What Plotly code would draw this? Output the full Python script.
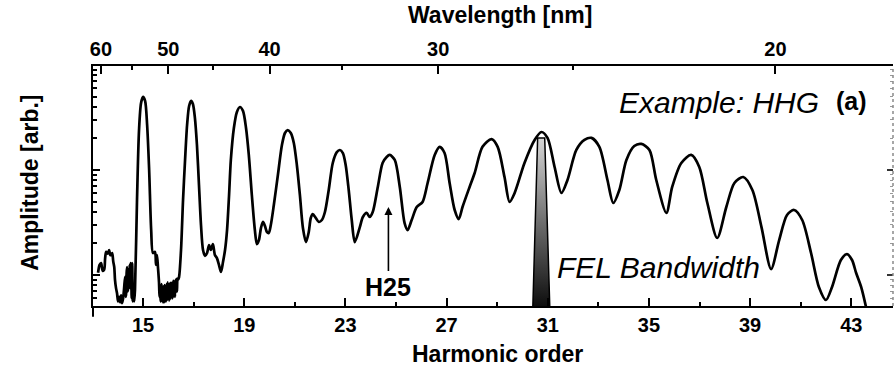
import math
import plotly.graph_objects as go

# Measured HHG spectrum: harmonic order vs. amplitude (arb. units, log scale)
harmonic_order = [
    13.22, 13.28, 13.34, 13.40, 13.46, 13.50, 13.54, 13.60, 13.66, 13.70,
    13.74, 13.78, 13.82, 13.86, 13.89, 13.93, 13.97, 14.01, 14.05, 14.09,
    14.13, 14.17, 14.21, 14.25, 14.29, 14.31, 14.33, 14.35, 14.37, 14.40,
    14.43, 14.45, 14.47, 14.49, 14.51, 14.53, 14.55, 14.57, 14.59, 14.61,
    14.65,
    14.68, 14.76, 14.84, 14.92, 15.00, 15.08, 15.16, 15.24, 15.32, 15.39,
    15.47, 15.51, 15.55, 15.59,
    15.63, 15.65, 15.67, 15.69, 15.71, 15.73, 15.75, 15.77, 15.79, 15.81,
    15.83, 15.85, 15.87, 15.89, 15.91, 15.93, 15.95, 15.97, 15.99, 16.01,
    16.03, 16.05, 16.07, 16.09, 16.11, 16.13, 16.15, 16.18, 16.20, 16.22,
    16.24, 16.26, 16.28, 16.30, 16.32, 16.34, 16.36, 16.38, 16.42,
    16.50, 16.58, 16.66, 16.74, 16.82, 16.90, 16.97, 17.05, 17.13, 17.21,
    17.29, 17.37, 17.45, 17.53, 17.61, 17.68, 17.76, 17.84, 17.92, 18.00,
    18.08, 18.16,
    18.24, 18.32, 18.40, 18.47, 18.59, 18.71, 18.83, 18.95, 19.07, 19.18,
    19.30, 19.42, 19.50, 19.58, 19.66, 19.74, 19.82, 19.90, 19.97,
    20.05, 20.17, 20.33, 20.49, 20.61, 20.72, 20.84, 20.96, 21.08, 21.20,
    21.32, 21.44, 21.55, 21.63, 21.71, 21.83, 21.95, 22.07, 22.19, 22.34,
    22.50, 22.66, 22.78, 22.90, 23.01, 23.13, 23.25, 23.37,
    23.57, 23.69, 23.84, 23.96, 24.08, 24.28, 24.47, 24.63, 24.75, 24.95,
    25.15, 25.34, 25.46, 25.62, 25.82, 26.05, 26.25, 26.53, 26.73, 26.92,
    27.12, 27.32, 27.48, 27.63, 27.91, 28.11, 28.42, 28.78, 29.02, 29.29,
    29.49, 29.69, 30.08, 30.48, 30.75, 30.99, 31.27, 31.54, 31.78, 32.13,
    32.45, 32.73, 33.04, 33.36, 33.59, 33.83, 34.11, 34.42, 34.70, 35.02,
    35.29, 35.69, 35.92, 36.28, 36.67, 36.99, 37.31, 37.70, 38.06, 38.38,
    38.73, 39.09, 39.45, 39.83, 40.15, 40.46, 40.74, 41.06, 41.41, 41.72,
    42.00, 42.24, 42.59, 42.83, 43.03, 43.19, 43.39, 43.58,
]
amplitude = [
    1.05, 1.25, 1.30, 1.10, 1.12, 1.45, 1.66, 1.60, 1.73, 1.55,
    1.55, 1.62, 1.35, 1.19, 0.90, 0.75, 0.67, 0.56, 0.62, 0.55,
    0.64, 0.54, 0.60, 0.75, 0.96, 0.62, 0.67, 1.05, 1.19, 0.70,
    0.96, 0.85, 1.25, 0.75, 1.30, 1.05, 0.60, 1.30, 0.56, 0.80,
    0.56,
    0.72, 5.18, 24.0, 43.5, 49.6, 45.4, 26.8, 10.0, 2.68, 1.62,
    1.66, 1.25, 1.55, 1.17,
    0.85, 0.62, 0.80, 0.56, 0.59, 0.82, 0.60, 0.72, 0.55, 0.78,
    0.55, 0.80, 0.56, 0.75, 0.56, 0.82, 0.58, 0.85, 0.62, 0.80,
    0.57, 0.83, 0.59, 0.84, 0.62, 0.84, 0.60, 0.65, 0.88, 0.63,
    0.86, 0.62, 0.90, 0.69, 0.92, 0.70, 0.92, 0.90, 0.95,
    1.73, 5.18, 12.45, 26.8, 40.7, 45.4, 42.5, 31.2, 17.3, 7.20,
    2.99, 1.73, 1.52, 1.62, 1.93, 1.73, 1.97, 1.55, 1.45, 1.25,
    1.07, 1.33,
    1.73, 2.68, 5.78, 12.45, 25.1, 35.7, 39.8, 36.5, 25.1, 13.9,
    5.78, 2.68, 1.97, 2.15, 2.80, 3.20, 2.92, 2.56, 2.51,
    2.99, 4.64, 8.96, 17.3, 22.5, 24.0, 22.5, 18.1, 11.16, 5.78,
    2.80, 2.06, 2.56, 3.49, 3.81, 3.49, 3.20, 3.34, 3.98, 6.45,
    11.66, 14.8, 15.5, 14.5, 11.16, 6.45, 3.34, 2.06,
    2.86, 3.57, 3.90, 3.57, 3.98, 6.89, 11.66, 13.3, 13.9, 12.45,
    6.89, 3.12, 2.68, 3.34, 4.44, 4.96, 7.52, 13.9, 16.6, 14.5,
    7.52, 4.16, 3.41, 4.44, 6.89, 9.36, 16.6, 19.7, 16.6, 8.57,
    4.96, 6.04, 11.66, 19.3, 23.0, 20.2, 10.68, 6.04, 8.03, 15.5,
    19.3, 20.2, 16.6, 8.03, 4.85, 6.45, 12.45, 16.9, 17.7, 15.5,
    8.03, 3.90, 6.89, 11.66, 13.9, 10.68, 4.85, 2.25, 4.44, 7.52,
    8.57, 6.45, 2.86, 1.14, 2.15, 3.73, 4.16, 3.34, 1.62, 0.77,
    0.578, 0.77, 1.39, 1.58, 1.39, 1.05, 0.77, 0.50,
]

# FEL bandwidth marker (trapezoid corners)
fel_order = [30.41, 30.60, 30.88, 31.08]
fel_amp = [0.5, 20.2, 20.2, 0.5]

# H25 arrow tip
h25_order = 24.70
h25_amp = 4.44

# Axis ticks
order_ticks = [15, 19, 23, 27, 31, 35, 39, 43]
order_minor = [17, 21, 25, 29, 33, 37, 41]
wavelength_ticks = [60, 50, 40, 30, 20]
wavelength_minor = [55, 45, 35, 25]
drive_wavelength_nm = 800  # harmonic q sits at 800/q nm
amp_major = [1, 10]
amp_minor = [0.6, 0.7, 0.8, 0.9, 2, 3, 4, 5, 6, 7, 8, 9,
             20, 30, 40, 50, 60, 70, 80, 90]

x_range = [13.02, 44.65]
y_range = [-0.295, 1.99]  # log10 of amplitude

FONT = "Liberation Sans, Arial, sans-serif"

fig = go.Figure()

fig.add_trace(go.Scatter(
    x=harmonic_order, y=amplitude, mode="lines",
    line=dict(color="black", width=2.7, shape="spline", smoothing=0.8),
    hoverinfo="skip", showlegend=False,
))

# invisible copy that carries the wavelength (top) and right-hand axes
fig.add_trace(go.Scatter(
    x=harmonic_order, y=amplitude, mode="lines", xaxis="x2", yaxis="y2",
    line=dict(color="rgba(0,0,0,0)", width=0),
    hoverinfo="skip", showlegend=False,
))

fig.add_trace(go.Scatter(
    x=fel_order + [fel_order[0]], y=fel_amp + [fel_amp[0]],
    mode="lines", fill="toself",
    fillgradient=dict(type="vertical",
                      colorscale=[[0, "#0d0d0d"], [0.5, "#6e6e6e"], [1, "#d6d6d6"]]),
    line=dict(color="black", width=1.5),
    hoverinfo="skip", showlegend=False,
))

wl_pos = [drive_wavelength_nm / w for w in wavelength_ticks]
wl_minor_pos = [drive_wavelength_nm / w for w in wavelength_minor]

fig.update_layout(
    width=896, height=371, autosize=False,
    margin=dict(l=93, r=3, t=66, b=65),
    paper_bgcolor="white", plot_bgcolor="white",
    font=dict(family=FONT, color="black"),
    showlegend=False,
    xaxis=dict(
        range=x_range, showgrid=False, zeroline=False,
        showline=True, linecolor="black", linewidth=2,
        ticks="inside", tickvals=order_ticks, ticklen=8, tickwidth=2,
        tickcolor="black",
        minor=dict(tickvals=order_minor, ticks="inside", ticklen=4,
                   tickwidth=2, tickcolor="black"),
        tickfont=dict(family=FONT, size=20, weight="bold"),
    ),
    xaxis2=dict(
        range=x_range, overlaying="x", side="top", anchor="y",
        showgrid=False, zeroline=False,
        showline=True, linecolor="black", linewidth=2,
        ticks="inside", tickvals=wl_pos, ticktext=[str(w) for w in wavelength_ticks],
        ticklen=8, tickwidth=2, tickcolor="black",
        minor=dict(tickvals=wl_minor_pos, ticks="inside", ticklen=4,
                   tickwidth=2, tickcolor="black"),
        tickfont=dict(family=FONT, size=20, weight="bold"),
    ),
    yaxis=dict(
        type="log", range=y_range, showgrid=False, zeroline=False,
        showline=True, linecolor="black", linewidth=2,
        ticks="inside", tickvals=amp_major, ticklen=7, tickwidth=2,
        tickcolor="black", showticklabels=False,
        minor=dict(tickvals=amp_minor, ticks="inside", ticklen=4,
                   tickwidth=1.5, tickcolor="black"),
    ),
    yaxis2=dict(
        type="log", range=y_range, overlaying="y", side="right", anchor="x2",
        showgrid=False, zeroline=False, showline=False,
        ticks="inside", tickvals=amp_major, ticklen=6, tickwidth=2,
        tickcolor="#333", showticklabels=False,
        minor=dict(tickvals=amp_minor, ticks="inside", ticklen=3,
                   tickwidth=1, tickcolor="#999"),
    ),
)

# dotted right frame and the left axis running past the bottom axis
fig.add_shape(type="line", xref="paper", yref="paper", x0=1, x1=1, y0=0, y1=1,
              line=dict(color="#8a8a8a", width=1.5, dash="dot"))
fig.add_shape(type="line", xref="paper", yref="paper", x0=0, x1=0, y0=0, y1=-0.045,
              line=dict(color="black", width=2))

ann = []
ann.append(dict(text="Wavelength [nm]", xref="paper", yref="paper",
                x=0.509, y=1.2125, xanchor="center", yanchor="middle",
                showarrow=False, font=dict(family=FONT, size=23, weight="bold")))
ann.append(dict(text="Harmonic order", xref="paper", yref="paper",
                x=0.506, y=-0.2625, xanchor="center", yanchor="bottom",
                showarrow=False, font=dict(family=FONT, size=23, weight="bold")))
ann.append(dict(text="Amplitude [arb.]", xref="paper", yref="paper",
                x=-0.079, y=0.5125, xanchor="center", yanchor="middle",
                showarrow=False, textangle=-90,
                font=dict(family=FONT, size=23, weight="bold")))
ann.append(dict(text="Example: HHG", xref="paper", yref="paper",
                x=0.655, y=0.85, xanchor="left", yanchor="middle",
                showarrow=False, font=dict(family=FONT, size=30, style="italic")))
ann.append(dict(text="(a)", xref="paper", yref="paper",
                x=0.9475, y=0.855, xanchor="center", yanchor="middle",
                showarrow=False, font=dict(family=FONT, size=25, weight="bold")))
ann.append(dict(text="FEL Bandwidth", xref="paper", yref="paper",
                x=0.5775, y=0.16, xanchor="left", yanchor="middle",
                showarrow=False, font=dict(family=FONT, size=30, style="italic")))
# annotation positions on a log axis are given in log10 units
ann.append(dict(text="H25", x=h25_order, y=math.log10(h25_amp), xref="x", yref="y",
                ax=0, ay=64, xanchor="center", yanchor="top",
                showarrow=True, arrowhead=2, arrowsize=1,
                arrowwidth=1.6, arrowcolor="black",
                font=dict(family=FONT, size=25, weight="bold")))
fig.update_layout(annotations=ann)

fig.write_html("out.html")
